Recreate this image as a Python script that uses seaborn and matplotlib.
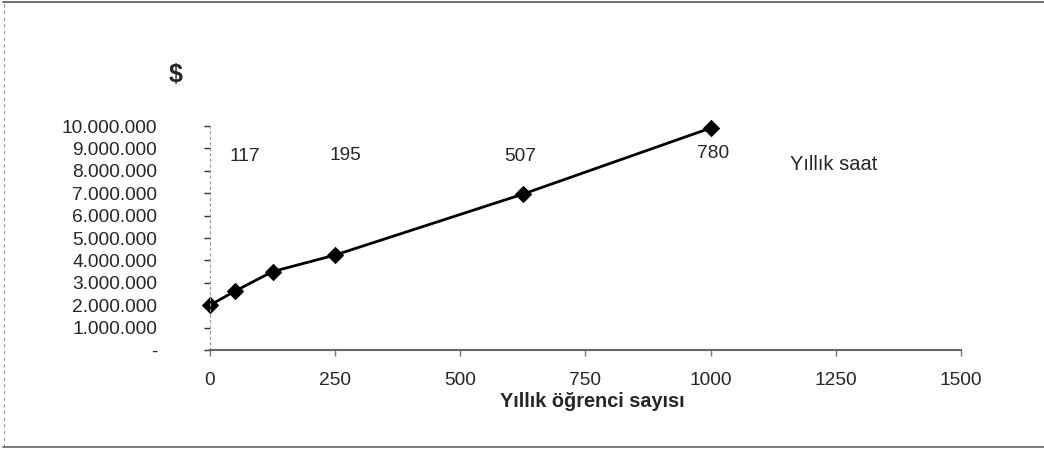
import numpy as np
import pandas as pd
import matplotlib
matplotlib.use("Agg")
import matplotlib.pyplot as plt
import matplotlib.ticker as mticker
from matplotlib.lines import Line2D
import seaborn as sns

# data
students = [0, 50, 125, 250, 625, 1000]
cost = [2000000, 2630000, 3500000, 4240000, 6960000, 9910000]

hour_labels = ["117", "195", "507", "780"]
hour_x = [70, 270, 620, 1005]
hour_y = [8660000, 8680000, 8660000, 8780000]

x_ticks = [0, 250, 500, 750, 1000, 1250, 1500]
y_ticks = list(range(0, 10000001, 1000000))

sns.set_style("white")
plt.rcParams["font.family"] = ["Liberation Sans", "DejaVu Sans"]

df = pd.DataFrame({"students": students, "cost": cost})

fig = plt.figure(figsize=(10.44, 4.51), dpi=100)
ax = fig.add_axes([0.2011, 0.2239, 0.7194, 0.4967])

sns.lineplot(data=df, x="students", y="cost", ax=ax, color="black",
             linewidth=2, marker="D", markersize=8, markeredgecolor="black")
for ln in ax.lines:
    ln.set_clip_on(False)

ax.set_xlim(0, 1500)
ax.set_ylim(0, 10000000)
ax.set_xticks(x_ticks)
ax.set_yticks(y_ticks)


def tr_fmt(v, pos):
    # Excel style: dot as thousands separator, dash for zero
    if v == 0:
        return "-"
    return f"{int(v):,}".replace(",", ".")


ax.yaxis.set_major_formatter(mticker.FuncFormatter(tr_fmt))
ax.tick_params(axis="y", direction="out", length=4, width=1, color="#333333",
               labelsize=13.8, pad=34, left=True)
ax.tick_params(axis="x", direction="out", length=4, width=1, color="#777777",
               labelsize=13.8, pad=12, bottom=True)

for s in ["top", "right"]:
    ax.spines[s].set_visible(False)
ax.spines["left"].set_color("#999999")
ax.spines["left"].set_linestyle((0, (2, 3)))
ax.spines["left"].set_linewidth(0.8)
ax.spines["bottom"].set_color("#666666")
ax.spines["bottom"].set_linewidth(1.5)

ax.set_xlabel("Yıllık öğrenci sayısı", fontsize=14.3, fontweight="bold")
ax.xaxis.set_label_coords(0.5087, -0.232)
ax.xaxis.label.set_va("center")
ax.set_ylabel("")

for lab, x, y in zip(hour_labels, hour_x, hour_y):
    ax.text(x, y, lab, fontsize=13.8, ha="center", va="center")
ax.text(1245, 8260000, "Yıllık saat", fontsize=14.5, ha="center", va="center")

fig.text(176 / 1044, 1 - 75 / 451, "$", fontsize=18, fontweight="bold",
         ha="center", va="center")

# outer frame of the chart area (top, left, bottom)
fig.add_artist(Line2D([0.003, 1.0], [0.995, 0.995], transform=fig.transFigure,
                      color="#555555", linewidth=1.2))
fig.add_artist(Line2D([0.004, 0.004], [0.009, 0.995], transform=fig.transFigure,
                      color="#999999", linewidth=0.8, linestyle=(0, (3, 3))))
fig.add_artist(Line2D([0.003, 1.0], [0.009, 0.009], transform=fig.transFigure,
                      color="#666666", linewidth=1.2))

fig.savefig("out.png", dpi=100)
